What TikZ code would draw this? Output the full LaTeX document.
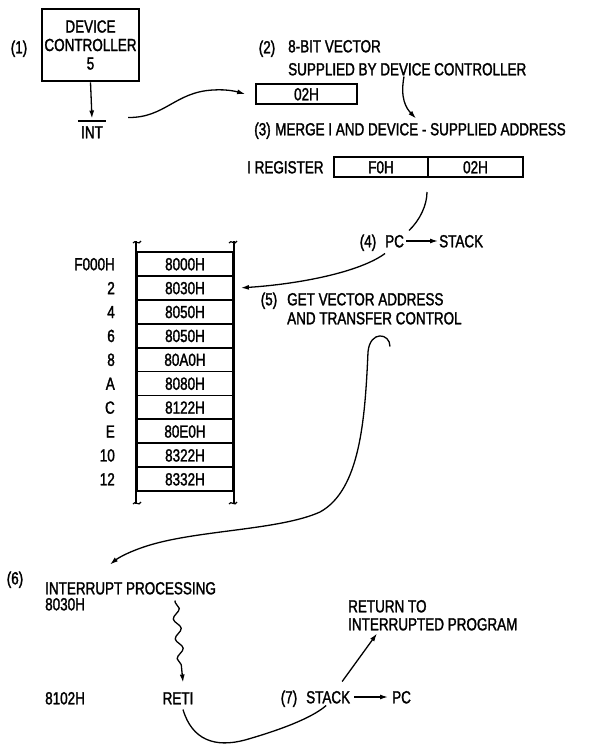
\documentclass[tikz,border=0pt]{standalone}
\usepackage{fontspec}
\setmainfont{Liberation Sans}[FakeStretch=0.77,FakeBold=1.6]
\usetikzlibrary{arrows.meta,decorations.pathmorphing}
\begin{document}
\begin{tikzpicture}[x=1pt,y=-1pt,
  every node/.style={font=\fontsize{17.5}{18.5}\selectfont, inner sep=0pt},
  lbl/.style={text height=12.6pt, text depth=0pt},
  arr/.style={line width=1.3pt, -{Latex[length=8pt,width=5pt]}},
  conn/.style={line width=1.3pt},
  cell/.style={draw, line width=1.8pt, minimum width=96pt, minimum height=23.9pt, lbl},
  reg/.style={draw, line width=2pt, minimum height=20pt, lbl},
  tbl/.style={line width=2.6pt},
  curl/.style={line width=1.2pt}]
\useasboundingbox (0,0) rectangle (590,747);
\fill[white] (0,0) rectangle (590,747);

% (1) device controller
\node[lbl] (n1) at (19,47) {(1)};
\node[draw, line width=2.6pt, minimum width=97pt, minimum height=72pt, align=center] (dev) at (90.5,45) {DEVICE\\CONTROLLER\\5};
\node[lbl] (int) at (92,132) {INT};
\draw[line width=1.3pt] ([xshift=-3pt,yshift=4.5pt]int.north west) -- ([xshift=3pt,yshift=4.5pt]int.north east);
\draw[arr] (dev.south) -- ([yshift=7pt]int.north);

% (2)
\node[lbl] (n2) at (267,47) {(2)};
\node[lbl, anchor=west] (bv) at (288,46) {8-BIT VECTOR};
\node[lbl, anchor=west] (sup) at (288,69) {SUPPLIED BY DEVICE CONTROLLER};
\node[reg, line width=1.8pt, minimum width=101pt] (v02) at (306.5,94) {02H};
\draw[arr] ([xshift=25pt,yshift=8pt]int.north east) .. controls (165,118) and (175,92) .. (213,90) .. controls (228,89) and (238,92) .. ([xshift=-10pt]v02.west);

% (3)
\node[lbl] (n3) at (262.5,129) {(3)};
\node[lbl, anchor=west] (merge) at (275,129) {MERGE I AND DEVICE - SUPPLIED ADDRESS};
\draw[arr] ([xshift=116pt,yshift=-1pt]sup.south west) .. controls (400,98) and (406,108) .. ([xshift=141pt,yshift=4pt]merge.north west);

\node[lbl, anchor=west] (ireg) at (247,167) {I REGISTER};
\node[reg, minimum width=94pt] (f0) at (381,167) {F0H};
\node[reg, minimum width=95pt] (r02) at (475.5,167) {02H};

% (4)
\node[lbl] (n4) at (368,241) {(4)};
\node[lbl, anchor=west] (pc1) at (385,241) {PC};
\node[lbl, anchor=west] (stk1) at (439,241) {STACK};
\draw[conn] ([yshift=-14pt]r02.south west) .. controls (427,205) and (420,220) .. ([xshift=24pt,yshift=4pt]pc1.north west);
\draw[arr] ([xshift=2pt]pc1.east) -- ([xshift=-1pt]stk1.west);

% table
\foreach \v/\l [count=\i] in {8000H/F000H,8030H/2,8050H/4,8050H/6,80A0H/8,8080H/A,8122H/C,80E0H/E,8322H/10,8332H/12}{
  \node[cell] (r\i) at (185,240.05+23.9*\i) {\v};
  \node[lbl, anchor=east] (l\i) at (115,240.05+23.9*\i) {\l};
}
\draw[tbl] ([yshift=10pt]r1.north west) -- ([yshift=-12pt]r10.south west);
\draw[tbl] ([yshift=10pt]r1.north east) -- ([yshift=-12pt]r10.south east);
\foreach \x in {137,233}{
  \foreach \y in {242,503}{
    \draw[curl] (\x-4,\y+1) .. controls (\x-2,\y-3) and (\x+2,\y+4) .. (\x+4,\y-1);
  }
}

% (5)
\node[lbl] (n5) at (269,299) {(5)};
\node[lbl, anchor=west] (gva) at (287,299) {GET VECTOR ADDRESS};
\node[lbl, anchor=west] (atc) at (287,318) {AND TRANSFER CONTROL};
\draw[arr] ([yshift=-6pt]pc1.south west) .. controls (360,272) and (300,284) .. ([xshift=7pt]r2.east);

% (6)
\node[lbl] (n6) at (15,578) {(6)};
\node[lbl, anchor=west] (ip) at (45,588) {INTERRUPT PROCESSING};
\node[lbl, anchor=west] (a8030) at (45,604) {8030H};
\draw[arr] ([xshift=103pt,yshift=-22pt]atc.south west) .. controls (390,333) and (370,330) .. (368,352) .. controls (365,420) and (360,490) .. (320,512) .. controls (280,530) and (200,530) .. (150,545) .. controls (130,551) and (118,558) .. ([xshift=65pt,yshift=17pt]ip.north west);

\node[lbl, anchor=west] (a8102) at (45,698) {8102H};
\node[lbl] (reti) at (178,698) {RETI};
\draw[arr, decorate, decoration={snake, amplitude=3.5pt, segment length=20pt, pre length=2pt, post length=16pt}] ([xshift=130pt,yshift=-6pt]ip.south west) -- ([xshift=5pt,yshift=9pt]reti.north);

% (7)
\node[lbl] (n7) at (289,697) {(7)};
\node[lbl, anchor=west] (stk2) at (306,697) {STACK};
\node[lbl, anchor=west] (pc2) at (392,697) {PC};
\node[lbl, anchor=west] (rt) at (348,606) {RETURN TO};
\node[lbl, anchor=west] (ipg) at (348,624) {INTERRUPTED PROGRAM};
\draw[conn] ([xshift=5pt,yshift=-5pt]reti.south) .. controls (192,740) and (215,748) .. (245,740) .. controls (280,730) and (312,718) .. ([xshift=-2pt,yshift=-2pt]stk2.south);
\draw[arr] ([xshift=14pt,yshift=9pt]stk2.north) -- ([xshift=29pt,yshift=-3pt]ipg.south west);
\draw[arr] ([xshift=4pt]stk2.east) -- ([xshift=-4pt]pc2.west);
\end{tikzpicture}
\end{document}
